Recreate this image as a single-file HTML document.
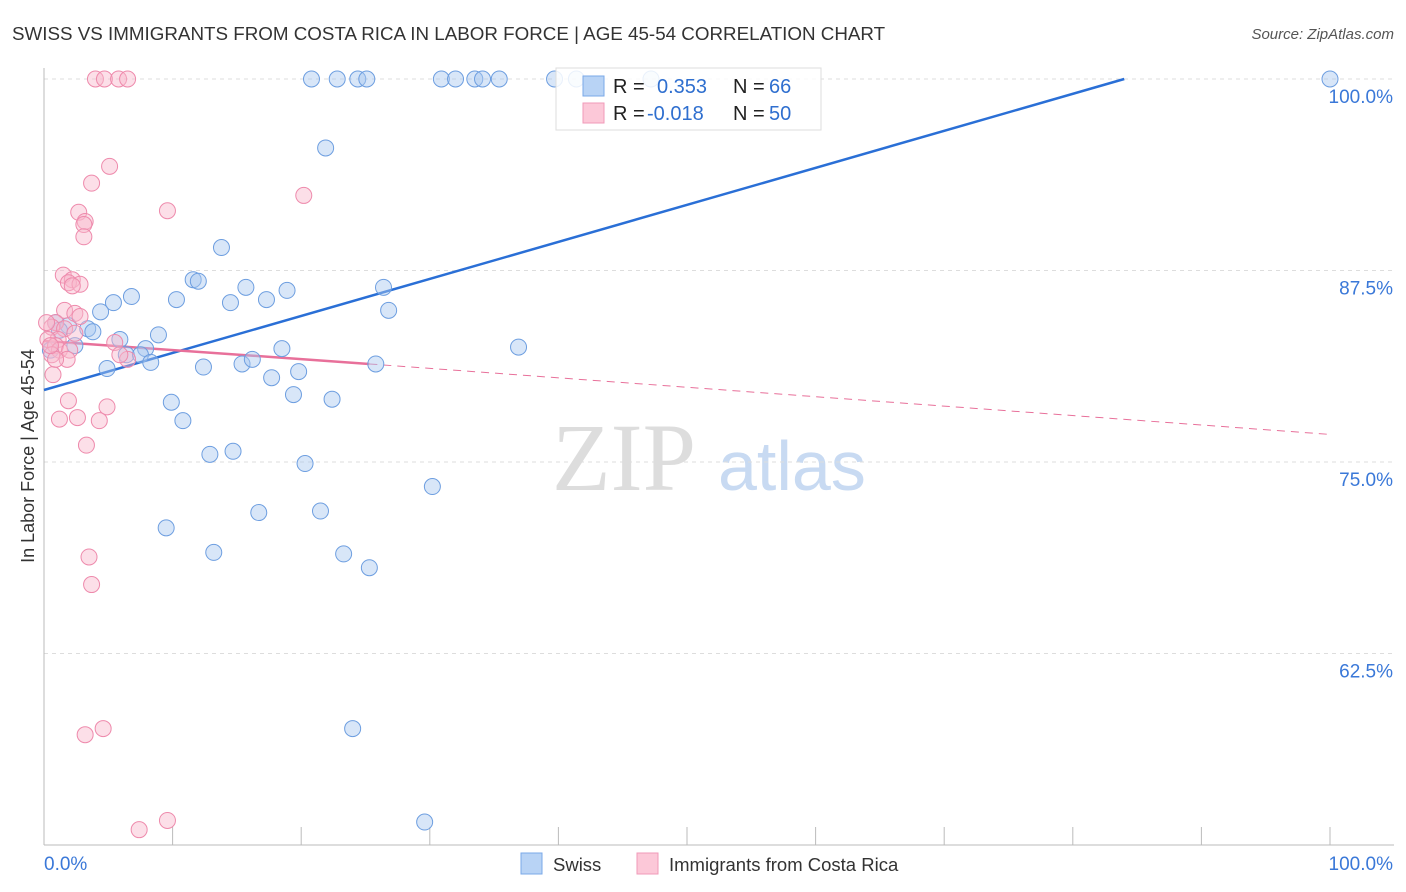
<!DOCTYPE html>
<html><head><meta charset="utf-8"><style>
body{margin:0;background:#fff;font-family:"Liberation Sans",sans-serif;}
svg{display:block}
</style></head><body>
<svg id="chart" width="1406" height="892" xmlns="http://www.w3.org/2000/svg">
<text x="12" y="40" font-size="18.8" fill="#333">SWISS VS IMMIGRANTS FROM COSTA RICA IN LABOR FORCE | AGE 45-54 CORRELATION CHART</text>
<text x="1394" y="39" font-size="15" fill="#555" font-style="italic" text-anchor="end">Source: ZipAtlas.com</text>
<text transform="translate(34,456) rotate(-90)" font-size="18" fill="#333" text-anchor="middle">In Labor Force | Age 45-54</text>
<g>
<text x="552" y="490" font-size="96" font-family="Liberation Serif,serif" fill="#ddd">ZIP</text>
<text x="718" y="490" font-size="70" fill="#c8daf2">atlas</text>
</g>
<g id="grid"></g><g id="axes"></g><g id="lines"></g><g id="pts"></g>
<g>
<rect x="556" y="68" width="265" height="62" fill="#fff" fill-opacity="0.85" stroke="#ddd"/>
<rect x="583" y="76" width="21" height="20" fill="#b8d3f5" stroke="#7aa8e8"/>
<rect x="583" y="103" width="21" height="20" fill="#fcc8d8" stroke="#f09ab8"/>
<text x="613" y="93" font-size="20" fill="#222">R =</text><text x="657" y="93" font-size="20" fill="#2f6fcf">0.353</text>
<text x="733" y="93" font-size="20" fill="#222">N =</text><text x="769" y="93" font-size="20" fill="#2f6fcf">66</text>
<text x="613" y="120" font-size="20" fill="#222">R =</text><text x="647" y="120" font-size="20" fill="#2f6fcf">-0.018</text>
<text x="733" y="120" font-size="20" fill="#222">N =</text><text x="769" y="120" font-size="20" fill="#2f6fcf">50</text>
</g>
<g>
<rect x="521" y="853" width="21" height="21" fill="#b8d3f5" stroke="#7aa8e8"/>
<text x="553" y="871" font-size="18.5" fill="#333">Swiss</text>
<rect x="637" y="853" width="21" height="21" fill="#fcc8d8" stroke="#f09ab8"/>
<text x="669" y="871" font-size="18.5" fill="#333">Immigrants from Costa Rica</text>
</g>
</svg>
<script>
const yTicks=[100,87.5,75,62.5];
const yTickLabels=["100.0%","87.5%","75.0%","62.5%"];
const swissX=[20.8,22.8,24.4,25.1,30.9,32.0,33.5,34.1,35.4,39.7,41.4,47.2,100,21.9,13.8,11.6,12.0,15.7,18.9,6.8,5.4,10.3,14.5,17.3,26.4,26.8,4.4,0.9,1.9,3.4,3.8,8.9,5.9,7.9,2.4,6.4,7.5,8.3,4.9,12.4,15.4,16.2,18.5,19.8,17.7,25.8,36.9,9.9,10.8,19.4,22.4,12.9,14.7,20.3,30.2,9.5,16.7,21.5,13.2,23.3,25.3,24.0,29.6,0.5,1.2];
const swissY=[100,100,100,100,100,100,100,100,100,100,100,100,100,95.5,89.0,86.9,86.8,86.4,86.2,85.8,85.4,85.6,85.4,85.6,86.4,84.9,84.8,84.1,83.9,83.7,83.5,83.3,83.0,82.4,82.6,82.0,82.0,81.5,81.1,81.2,81.4,81.7,82.4,80.9,80.5,81.4,82.5,78.9,77.7,79.4,79.1,75.5,75.7,74.9,73.4,70.7,71.7,71.8,69.1,69.0,68.1,57.6,51.5,82.3,83.6];
const costaX=[4.0,4.7,5.8,6.5,5.1,3.7,20.2,9.6,2.7,3.2,3.1,3.1,1.5,2.2,1.9,2.8,2.2,1.6,2.4,2.8,0.9,0.6,1.6,1.1,0.3,0.9,1.2,2.0,1.8,0.6,5.5,6.5,0.7,1.9,4.9,2.6,4.3,1.2,3.3,3.5,3.7,3.2,4.6,7.4,9.6,0.9,0.5,2.4,5.9,0.2];
const costaY=[100,100,100,100,94.3,93.2,92.4,91.4,91.3,90.7,90.5,89.7,87.2,86.9,86.7,86.6,86.5,84.9,84.7,84.5,84.1,83.8,83.7,83.0,83.0,82.6,82.3,82.3,81.7,82.0,82.8,81.7,80.7,79.0,78.6,77.9,77.7,77.8,76.1,68.8,67.0,57.2,57.6,51.0,51.6,81.7,82.6,83.4,82.0,84.1];
const swissTrend=[0,79.7,84,100];
const costaTrend=[0,82.9,25.3,81.4,100,76.8];
const X=v=>44+v*12.86, Y=v=>79+(100-v)*15.32;
const NS="http://www.w3.org/2000/svg";
function mk(tag,attrs,parent){const e=document.createElementNS(NS,tag);for(const k in attrs)e.setAttribute(k,attrs[k]);parent.appendChild(e);return e;}
const grid=document.getElementById('grid'),axes=document.getElementById('axes'),lines=document.getElementById('lines'),pts=document.getElementById('pts');
yTicks.forEach((t,i)=>{
 const g=mk('line',{x1:44,x2:1394,y1:Y(t),y2:Y(t),stroke:'#ddd','stroke-dasharray':'4,4'},grid);
 
 
 const l=mk('text',{x:1393,y:Y(t)+24,'font-size':19,fill:'#3a78d8','text-anchor':'end'},axes);
 l.textContent=yTickLabels[i];
 
 
});
mk('line',{x1:44,x2:44,y1:68,y2:845,stroke:'#bbb'},axes);
mk('line',{x1:44,x2:1394,y1:845,y2:845,stroke:'#bbb'},axes);
for(let i=1;i<=10;i++){const t=mk('line',{x1:X(i*10),x2:X(i*10),y1:827,y2:845,stroke:'#bbb'},axes);}
const x0=mk('text',{x:44,y:870,'font-size':19,fill:'#3a78d8'},axes);x0.textContent='0.0%';


const x1=mk('text',{x:1393,y:870,'font-size':19,fill:'#3a78d8','text-anchor':'end'},axes);x1.textContent='100.0%';


function drawPts(xs,ys,fill,stroke,name){xs.forEach((x,i)=>{const c=mk('circle',{cx:X(x),cy:Y(ys[i]),r:8,fill:fill,'fill-opacity':0.45,stroke:stroke,'stroke-width':1},pts);
 
 });}
drawPts(swissX,swissY,'#a8c8f0','#6d9ee0','swiss-point');
drawPts(costaX,costaY,'#f8b8cc','#ee8aac','costa-rica-point');
const bl=mk('line',{x1:X(swissTrend[0]),y1:Y(swissTrend[1]),x2:X(swissTrend[2]),y2:Y(swissTrend[3]),stroke:'#2a6fd6','stroke-width':2.5},lines);


const pl=mk('line',{x1:X(costaTrend[0]),y1:Y(costaTrend[1]),x2:X(costaTrend[2]),y2:Y(costaTrend[3]),stroke:'#e8709a','stroke-width':2.5},lines);


const pd=mk('line',{x1:X(costaTrend[2]),y1:Y(costaTrend[3]),x2:X(costaTrend[4]),y2:Y(costaTrend[5]),stroke:'#e8709a','stroke-width':1,'stroke-dasharray':'8,6'},lines);


</script>
</body></html>
